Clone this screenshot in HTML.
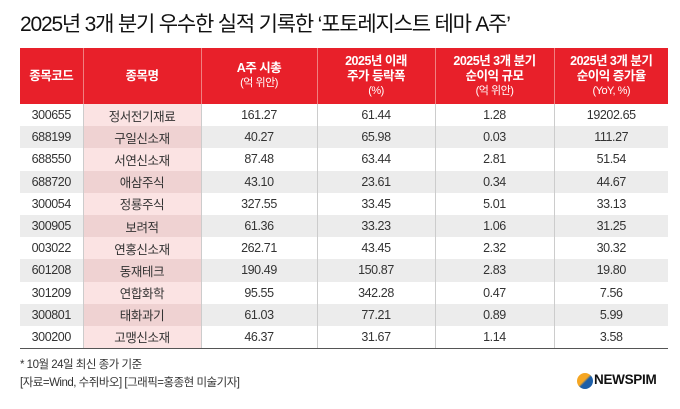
<!DOCTYPE html>
<html><head><meta charset="utf-8"><style>
body{margin:0;width:680px;height:409px;background:#fff;font-family:"Liberation Sans","Noto Sans CJK KR",sans-serif;position:relative;overflow:hidden;color:#222}
.title{position:absolute;left:20px;top:8px;font-size:21px;letter-spacing:-1.2px;color:#111;white-space:nowrap}
table{position:absolute;left:20px;top:48px;width:648px;border-collapse:collapse;table-layout:fixed}
th{background:#e8202a;color:#fff;font-size:12.5px;font-weight:bold;line-height:15px;height:56px;padding:0;border-left:1px solid #f08080;letter-spacing:-0.5px}
th:first-child{border-left:none}
th span{font-weight:normal;font-size:11px;display:block}
td{height:22.2px;padding:0;text-align:center;font-size:12.5px;border-left:1px solid #ccc;letter-spacing:-0.4px;color:#333}
td:first-child{border-left:none}
tr:nth-child(even) td{background:#ececec}
td.n{background:#fbe3e3}
tr:nth-child(even) td.n{background:#efd2d2}
tbody tr:last-child td{border-bottom:1.5px solid #555}
.f{position:absolute;left:20px;font-size:11.5px;letter-spacing:-0.5px;color:#333}
</style></head><body>
<div class="title">2025년 3개 분기 우수한 실적 기록한 ‘포토레지스트 테마 A주’</div>
<table>
<colgroup><col style="width:63px"><col style="width:118px"><col style="width:116px"><col style="width:118px"><col style="width:119px"><col style="width:114px"></colgroup>
<thead><tr><th>종목코드</th><th>종목명</th><th>A주 시총<span>(억 위안)</span></th><th>2025년 이래<br>주가 등락폭<span>(%)</span></th><th>2025년 3개 분기<br>순이익 규모<span>(억 위안)</span></th><th>2025년 3개 분기<br>순이익 증가율<span>(YoY, %)</span></th></tr></thead>
<tbody>
<tr><td>300655</td><td class="n">정서전기재료</td><td>161.27</td><td>61.44</td><td>1.28</td><td>19202.65</td></tr>
<tr><td>688199</td><td class="n">구일신소재</td><td>40.27</td><td>65.98</td><td>0.03</td><td>111.27</td></tr>
<tr><td>688550</td><td class="n">서연신소재</td><td>87.48</td><td>63.44</td><td>2.81</td><td>51.54</td></tr>
<tr><td>688720</td><td class="n">애삼주식</td><td>43.10</td><td>23.61</td><td>0.34</td><td>44.67</td></tr>
<tr><td>300054</td><td class="n">정룡주식</td><td>327.55</td><td>33.45</td><td>5.01</td><td>33.13</td></tr>
<tr><td>300905</td><td class="n">보려적</td><td>61.36</td><td>33.23</td><td>1.06</td><td>31.25</td></tr>
<tr><td>003022</td><td class="n">연홍신소재</td><td>262.71</td><td>43.45</td><td>2.32</td><td>30.32</td></tr>
<tr><td>601208</td><td class="n">동재테크</td><td>190.49</td><td>150.87</td><td>2.83</td><td>19.80</td></tr>
<tr><td>301209</td><td class="n">연합화학</td><td>95.55</td><td>342.28</td><td>0.47</td><td>7.56</td></tr>
<tr><td>300801</td><td class="n">태화과기</td><td>61.03</td><td>77.21</td><td>0.89</td><td>5.99</td></tr>
<tr><td>300200</td><td class="n">고맹신소재</td><td>46.37</td><td>31.67</td><td>1.14</td><td>3.58</td></tr>
</tbody></table>
<div class="f" style="top:356px">* 10월 24일 최신 종가 기준</div>
<div class="f" style="top:374px">[자료=Wind, 수쥐바오] [그래픽=홍종현 미술기자]</div>
<div style="position:absolute;left:577px;top:373px;width:16px;height:16px;border-radius:50%;background:linear-gradient(135deg,#f5a623 45%,#1d5fa8 55%)"></div>
<div style="position:absolute;left:594px;top:372px;font-size:13.5px;font-weight:bold;color:#111;letter-spacing:-0.3px">NEWSPIM</div>
</body></html>
